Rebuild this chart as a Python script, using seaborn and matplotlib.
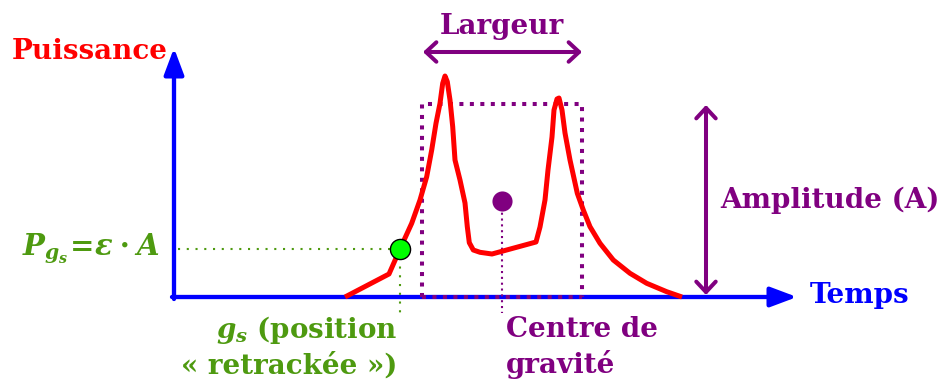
import matplotlib
matplotlib.use("Agg")
import matplotlib.pyplot as plt
import seaborn as sns
import pandas as pd

# signal shape (time units, power units), origin at the axes corner
temps = [171, 215, 226, 237.7, 246, 252.7, 257.7, 262, 266, 268.7, 271, 273.3,
         276, 278.7, 281, 286, 291, 293.3, 295.3, 299.3, 306, 318, 362, 366,
         371, 374, 378, 380, 383, 385, 388, 391, 396, 403.3, 409.3, 416, 426,
         439.3, 456, 472.7, 492.7, 508]
puissance = [0, 23, 48, 73.7, 97, 120.3, 147, 173.7, 193.7, 213.7, 221, 215.3,
             197, 170.3, 137, 117, 94, 70.3, 54.3, 47, 44.7, 43, 55, 70,
             97, 127, 160, 187, 198, 199, 187, 164, 137, 103.7, 87, 70.3, 53.7,
             37, 23.7, 13.7, 5.3, 0]

# annotations
retrack_t, retrack_p = [226], [48]
centre_t, centre_p = [328], [96]
box_t = [248, 248, 408, 408]
box_p = [0, 193, 193, 0]
largeur_t = [249, 408]
largeur_p = 245
amplitude_t = 532
amplitude_p = [2, 192]
axis_x_end = 623
axis_y_end = 249

RED = "#ff0000"
BLUE = "#0000ff"
PURPLE = "#800080"
GREEN = "#4e9a10"
LIME = "#00ff00"

sns.set_style("white")
plt.rcParams["mathtext.fontset"] = "custom"
plt.rcParams["mathtext.rm"] = "DejaVu Serif:bold"
plt.rcParams["mathtext.bf"] = "DejaVu Serif:bold"
plt.rcParams["mathtext.it"] = "DejaVu Serif:italic:bold"
FONT = "DejaVu Serif"
FS = 20

fig = plt.figure(figsize=(9.52, 3.83), dpi=100)
ax = fig.add_axes([0, 0, 1, 1])
ax.set_xlim(-174, 778)
ax.set_ylim(-86, 297)
ax.axis("off")

# axes arrows
axis_style = "-|>,head_length=1.6,head_width=0.6"
ax.annotate("", xy=(axis_x_end, 0), xytext=(-2, 0),
            arrowprops=dict(arrowstyle=axis_style, color=BLUE, lw=3.1,
                            shrinkA=0, shrinkB=0, mutation_scale=10))
ax.annotate("", xy=(0, axis_y_end), xytext=(0, -2),
            arrowprops=dict(arrowstyle=axis_style, color=BLUE, lw=3.1,
                            shrinkA=0, shrinkB=0, mutation_scale=10))

# dotted box (largeur)
ax.plot(box_t, box_p, color=PURPLE, lw=2.9, linestyle=(0, (1, 1.6)),
        dash_capstyle="butt", zorder=3)
ax.plot([box_t[0], box_t[-1]], [0, 0], color=PURPLE, lw=2.9,
        linestyle=(0, (1, 1.6)), dash_capstyle="butt", zorder=3)

# signal
df = pd.DataFrame({"temps": temps, "puissance": puissance})
sns.lineplot(data=df, x="temps", y="puissance", sort=False, estimator=None,
             color=RED, lw=3.6, ax=ax, zorder=4, solid_joinstyle="round",
             solid_capstyle="butt")

# centre de gravite
ax.plot([centre_t[0], centre_t[0]], [centre_p[0], -16], color=PURPLE, lw=1.5,
        linestyle=(0, (1, 1.8)), zorder=3)
sns.scatterplot(x=centre_t, y=centre_p, color=PURPLE, s=210, linewidth=0,
                ax=ax, zorder=5)

# retracking point
ax.plot([4, retrack_t[0]], [retrack_p[0], retrack_p[0]], color=GREEN, lw=1.5,
        linestyle=(0, (1, 3.2)), zorder=3)
ax.plot([retrack_t[0], retrack_t[0]], [retrack_p[0], -16], color=GREEN, lw=1.5,
        linestyle=(0, (1, 3.2)), zorder=3)
sns.scatterplot(x=retrack_t, y=retrack_p, color=LIME, s=210, edgecolor="black",
                linewidth=1, ax=ax, zorder=6)

# largeur / amplitude arrows
open_style = "<->,head_length=0.75,head_width=0.7"
ax.annotate("", xy=(largeur_t[1], largeur_p), xytext=(largeur_t[0], largeur_p),
            arrowprops=dict(arrowstyle=open_style, color=PURPLE, lw=2.9,
                            shrinkA=0, shrinkB=0, mutation_scale=10))
ax.annotate("", xy=(amplitude_t, amplitude_p[1]), xytext=(amplitude_t, amplitude_p[0]),
            arrowprops=dict(arrowstyle=open_style, color=PURPLE, lw=2.9,
                            shrinkA=0, shrinkB=0, mutation_scale=10))

# labels
txt = dict(fontsize=FS, family=FONT, weight="bold", va="baseline")
ax.text(-162, 238, "Puissance", color=RED, ha="left", **txt)
ax.text(636, -6, "Temps", color=BLUE, ha="left", **txt)
ax.text(328, 262.7, "Largeur", color=PURPLE, ha="center", **txt)
ax.text(546, 88.7, "Amplitude (A)", color=PURPLE, ha="left", **txt)
ax.text(332, -40.3, "Centre de", color=PURPLE, ha="left", **txt)
ax.text(332, -76.3, "gravité", color=PURPLE, ha="left", **txt)
ax.text(223, -41.3, r"$g_s$ (position", color=GREEN, ha="right", **txt)
ax.text(223, -76.3, "« retrackée »)", color=GREEN, ha="right", **txt)
ax.text(-14, 42, r"$P_{g_s}\!=\!\varepsilon\cdot A$", color=GREEN, fontsize=FS + 1,
        ha="right", va="baseline")

fig.savefig("out.png", dpi=100)
